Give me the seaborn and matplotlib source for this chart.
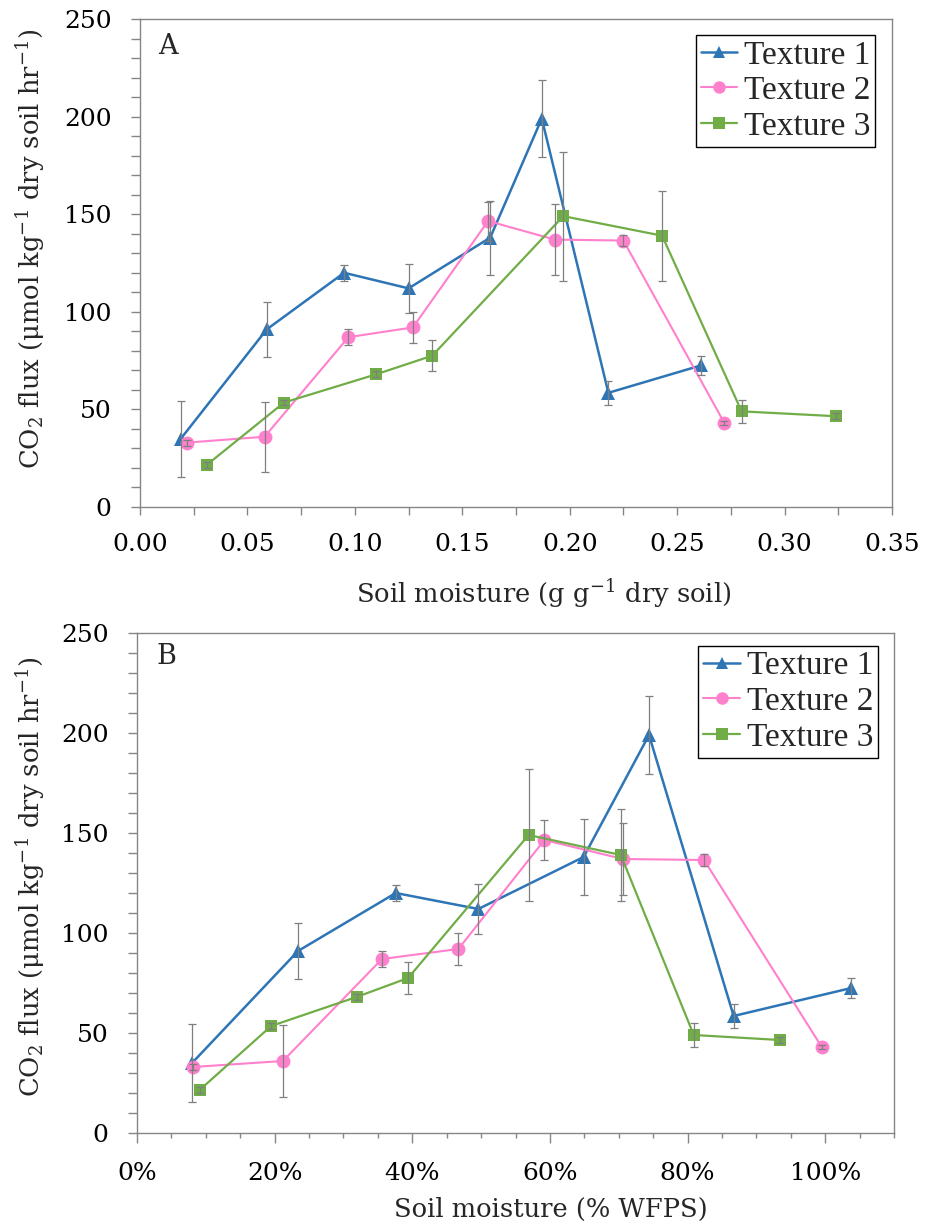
import numpy as np
import pandas as pd
import matplotlib
matplotlib.use("Agg")
import matplotlib.pyplot as plt
from matplotlib.lines import Line2D
from matplotlib.ticker import MultipleLocator, FuncFormatter
import seaborn as sns

# ---- data -------------------------------------------------------------
textures = ["Texture 1", "Texture 2", "Texture 3"]

# gravimetric soil moisture (g g-1 dry soil)
grav_t1 = [0.019, 0.059, 0.095, 0.125, 0.163, 0.187, 0.218, 0.261]
grav_t2 = [0.022, 0.058, 0.097, 0.127, 0.162, 0.193, 0.225, 0.272]
grav_t3 = [0.031, 0.067, 0.110, 0.136, 0.197, 0.243, 0.280, 0.324]

# water-filled pore space (%)
wfps_t1 = [8.0, 23.4, 37.6, 49.6, 64.9, 74.4, 86.7, 103.8]
wfps_t2 = [8.1, 21.2, 35.6, 46.7, 59.2, 70.6, 82.4, 99.5]
wfps_t3 = [9.1, 19.5, 31.9, 39.4, 56.9, 70.3, 80.9, 93.4]

# CO2 flux (umol kg-1 dry soil hr-1) and standard errors
flux_t1 = [35, 91, 120, 112, 138, 199, 58.5, 72.5]
flux_t2 = [33, 36, 87, 92, 146.5, 137, 136.5, 43]
flux_t3 = [21.5, 53.5, 68, 77.5, 149, 139, 49, 46.5]

err_t1 = [19.5, 14, 4, 12.5, 19, 19.5, 6, 5]
err_t2 = [1.5, 18, 4, 8, 10, 18, 3, 1]
err_t3 = [1.5, 1.5, 1.5, 8, 33, 23, 6, 1.5]

rows = []
for name, g, w, f, e in zip(textures,
                            [grav_t1, grav_t2, grav_t3],
                            [wfps_t1, wfps_t2, wfps_t3],
                            [flux_t1, flux_t2, flux_t3],
                            [err_t1, err_t2, err_t3]):
    for gi, wi, fi, ei in zip(g, w, f, e):
        rows.append({"texture": name, "grav": gi, "wfps": wi, "flux": fi, "err": ei})
df = pd.DataFrame(rows)

palette = {"Texture 1": "#2E75B6", "Texture 2": "#FF80CC", "Texture 3": "#70AD47"}
markers = {"Texture 1": "^", "Texture 2": "o", "Texture 3": "s"}
msizes = {"Texture 1": 10, "Texture 2": 10, "Texture 3": 9}
lwidths = {"Texture 1": 1.8, "Texture 2": 1.5, "Texture 3": 1.6}

# ---- style ------------------------------------------------------------
sns.set_theme(style="white")
plt.rcParams["font.family"] = ["DejaVu Serif"]
plt.rcParams["mathtext.fontset"] = "dejavuserif"

spine_col = "#868686"
tick_fs = 18
label_fs = 18.5
legend_font = {"family": "Liberation Serif", "size": 24}

fig = plt.figure(figsize=(9.25, 12.26), dpi=100)
W, H = 925, 1226
axA = fig.add_axes([140 / W, 1 - 507 / H, 752 / W, 488 / H])
axB = fig.add_axes([137 / W, 1 - 1133 / H, 757 / W, 500 / H])

ylabel = "CO$_2$ flux (\u03bcmol kg$^{-1}$ dry soil hr$^{-1}$)"


def draw_panel(ax, xcol):
    for name in textures:
        sub = df[df["texture"] == name]
        sns.lineplot(data=sub, x=xcol, y="flux", ax=ax, color=palette[name],
                     marker=markers[name], markersize=msizes[name],
                     markeredgewidth=0, linewidth=lwidths[name],
                     sort=False, estimator=None, legend=False, zorder=2)
    for name in textures:
        sub = df[df["texture"] == name]
        ax.errorbar(sub[xcol], sub["flux"], yerr=sub["err"], fmt="none",
                    ecolor="#7f7f7f", elinewidth=0.9, capsize=3.2,
                    capthick=0.9, zorder=4)
    ax.set_ylim(0, 250)
    ax.yaxis.set_major_locator(MultipleLocator(50))
    ax.yaxis.set_minor_locator(MultipleLocator(10))
    for s in ax.spines.values():
        s.set_visible(True)
        s.set_color(spine_col)
        s.set_linewidth(1.0)
    ax.tick_params(axis="both", which="both", direction="out", color=spine_col,
                   width=1.0, labelsize=tick_fs, labelcolor="black")
    ax.tick_params(axis="y", which="both", length=6.5, pad=14, left=True)
    ax.set_ylabel(ylabel, fontsize=label_fs)
    handles = [Line2D([0], [0], color=palette[n], marker=markers[n],
                      markersize=msizes[n] * 0.9, markeredgewidth=0,
                      linewidth=lwidths[n]) for n in textures]
    return handles


def add_legend(ax, handles, anchor):
    leg = ax.legend(handles, textures, loc="upper right", bbox_to_anchor=anchor,
                    prop=legend_font, frameon=True, fancybox=False,
                    edgecolor="black", framealpha=1, borderpad=0.15,
                    handlelength=1.1, handletextpad=0.2, labelspacing=0.15,
                    borderaxespad=0)
    leg.get_frame().set_linewidth(1.0)


# ---- panel A: gravimetric moisture ------------------------------------
hA = draw_panel(axA, "grav")
axA.set_xlim(0, 0.35)
axA.xaxis.set_major_locator(MultipleLocator(0.05))
axA.xaxis.set_minor_locator(MultipleLocator(0.025))
axA.xaxis.set_major_formatter(FuncFormatter(lambda v, p: f"{v:.2f}"))
axA.tick_params(axis="x", which="both", length=6, pad=13, bottom=True)
axA.set_xlabel("Soil moisture (g g$^{-1}$ dry soil)", fontsize=label_fs)
axA.xaxis.set_label_coords(0.537, -0.143)
axA.xaxis.label.set_va("top")
axA.yaxis.set_label_coords(-0.124, 0.53)
axA.text(0.024, 0.943, "A", transform=axA.transAxes, fontsize=19.5,
         va="center", ha="left")
add_legend(axA, hA, (0.978, 0.967))

# ---- panel B: water-filled pore space ---------------------------------
hB = draw_panel(axB, "wfps")
axB.set_xlim(0, 110)
axB.xaxis.set_major_locator(MultipleLocator(20))
axB.xaxis.set_minor_locator(MultipleLocator(5))
axB.xaxis.set_major_formatter(FuncFormatter(lambda v, p: f"{v:.0f}%"))
axB.tick_params(axis="x", which="major", length=7, pad=14, bottom=True)
axB.tick_params(axis="x", which="minor", length=3.5, bottom=True)
axB.set_xlabel("Soil moisture (% WFPS)", fontsize=label_fs)
axB.xaxis.set_label_coords(0.546, -0.128)
axB.xaxis.label.set_va("top")
axB.yaxis.set_label_coords(-0.119, 0.512)
axB.text(0.026, 0.952, "B", transform=axB.transAxes, fontsize=19.5,
         va="center", ha="left")
add_legend(axB, hB, (0.979, 0.974))

fig.savefig("out.png", dpi=100, facecolor="white")
